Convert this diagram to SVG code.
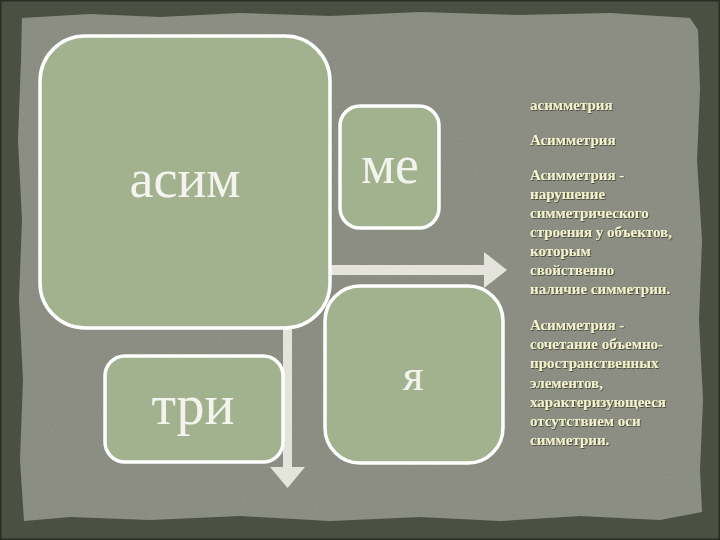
<svg xmlns="http://www.w3.org/2000/svg" width="720" height="540" viewBox="0 0 720 540">
<defs>
<style>
.box{fill:#a2b28f;stroke:#ffffff;stroke-width:3.5}
.lbl{font-family:"Liberation Serif","DejaVu Serif",serif;fill:#f4f4ee;text-anchor:middle}
.arrow{fill:#e4e4dc}
.txt{font-family:"Liberation Serif","DejaVu Serif",serif;font-size:15px;fill:#f2f2cc;font-weight:bold}
</style>
<filter id="tex" x="0" y="0" width="100%" height="100%">
<feTurbulence type="fractalNoise" baseFrequency="0.9" numOctaves="2" seed="3" result="n"/>
<feColorMatrix in="n" type="matrix" values="0 0 0 0 0.5  0 0 0 0 0.52  0 0 0 0 0.47  0 0 0 0.18 0" result="c"/>
<feComposite in="c" in2="SourceGraphic" operator="in" result="m"/>
<feMerge><feMergeNode in="SourceGraphic"/><feMergeNode in="m"/></feMerge>
</filter>
<filter id="sh" x="-10%" y="-30%" width="120%" height="160%">
<feDropShadow dx="0.8" dy="0.8" stdDeviation="0.6" flood-color="#2a2c22" flood-opacity="0.8"/>
</filter>
</defs>
<g id="background">
<rect x="0" y="0" width="720" height="540" fill="#4b5142"/>
<rect x="0.5" y="0.5" width="719" height="539" fill="none" stroke="#2a2d24" stroke-width="2"/>
<path d="M22 18 L90 14 L160 17 L240 13 L330 16 L420 12 L520 15 L610 13 L690 18 L698 30 L700 90 L697 160 L702 240 L699 320 L703 400 L700 470 L702 512 L660 520 L580 516 L500 521 L420 517 L330 521 L240 516 L150 520 L70 517 L24 521 L20 460 L23 380 L19 300 L22 220 L18 140 L21 60 Z" fill="#86887d" filter="url(#tex)"/>
</g>
<g id="connectors">
<path class="arrow" d="M330 265 L484 265 L484 252 L507 270 L484 288 L484 275 L330 275 Z"/>
<path class="arrow" d="M283 328 L292 328 L292 467 L305 467 L287.5 488 L270 467 L283 467 Z"/>
</g>
<g id="node-asim">
<rect class="box" x="40" y="36" width="290" height="292" rx="45" ry="45"/>
<text class="lbl" x="185" y="197" font-size="54">асим</text>
</g>
<g id="node-me">
<rect class="box" x="340" y="106" width="99" height="122" rx="20" ry="20"/>
<text class="lbl" x="390" y="183" font-size="54">ме</text>
</g>
<g id="node-tri">
<rect class="box" x="105" y="356" width="178" height="106" rx="20" ry="20"/>
<text class="lbl" x="193" y="424" font-size="56">три</text>
</g>
<g id="node-ya">
<rect class="box" x="325" y="286" width="178" height="177" rx="35" ry="35"/>
<text class="lbl" x="413" y="390" font-size="45">я</text>
</g>
<g id="definitions" filter="url(#sh)">
<text class="txt" x="530" y="110">асимметрия</text>
<text class="txt" x="530" y="145">Асимметрия</text>
<text class="txt" x="530" y="180">Асимметрия -</text>
<text class="txt" x="530" y="199">нарушение</text>
<text class="txt" x="530" y="218">симметрического</text>
<text class="txt" x="530" y="237">строения у объектов,</text>
<text class="txt" x="530" y="256">которым</text>
<text class="txt" x="530" y="275">свойственно</text>
<text class="txt" x="530" y="294">наличие симметрии.</text>
<text class="txt" x="530" y="330">Асимметрия -</text>
<text class="txt" x="530" y="349">сочетание объемно-</text>
<text class="txt" x="530" y="368">пространственных</text>
<text class="txt" x="530" y="388">элементов,</text>
<text class="txt" x="530" y="407">характеризующееся</text>
<text class="txt" x="530" y="426">отсутствием оси</text>
<text class="txt" x="530" y="445">симметрии.</text>
</g>
</svg>
